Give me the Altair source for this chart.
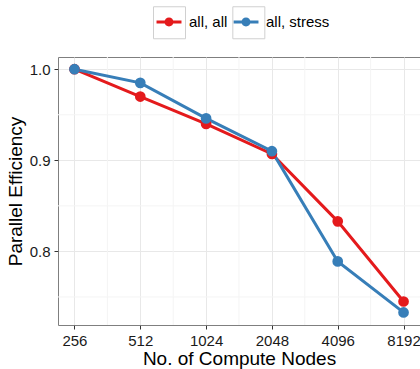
import altair as alt
import pandas as pd

# ---- data ----
nodes = [256, 512, 1024, 2048, 4096, 8192]
all_all = [1.0, 0.970, 0.940, 0.907, 0.833, 0.745]
all_stress = [1.0, 0.985, 0.946, 0.910, 0.789, 0.733]
series_names = ["all, all", "all, stress"]
colors = ["#E41A1C", "#377EB8"]
x_ticks = [256, 512, 1024, 2048, 4096, 8192]
y_ticks = [0.8, 0.9, 1.0]
x_minor = [362.04, 724.08, 1448.15, 2896.31, 5792.62]
y_minor = [0.75, 0.85, 0.95]

rows = []
for name, col, vals in zip(series_names, colors, [all_all, all_stress]):
    for n, v in zip(nodes, vals):
        rows.append({"nodes": n, "eff": v, "series": name,
                     "series_box": name, "line_color": col})
df = pd.DataFrame(rows)

FONT = "Liberation Sans"
LABEL_SIZE = 15
COL_PAD = 2
# width of the first legend label in Liberation Sans (Arial metrics)
FIRST_LABEL_W = 2.556 * LABEL_SIZE

xscale = alt.Scale(type="log", base=2, domain=[215.27, 9741.9], nice=False)
yscale = alt.Scale(domain=[0.7192, 1.0134], nice=False, zero=False)

# legend symbols (unit path scaled by sqrt(size)/2 = 16 px)
key_path = ("M-0.78,-0.094L0.78,-0.094L0.78,0.094L-0.78,0.094Z "
            "M0.28,0A0.28,0.28,0,1,1,-0.28,0A0.28,0.28,0,1,1,0.28,0Z")
box_path = "M-1,-1L1,-1L1,1L-1,1Z"

legend_common = dict(
    orient="none", legendX=95, legendY=-51, direction="horizontal",
    symbolSize=1024, labelFont=FONT, labelFontSize=LABEL_SIZE,
    labelOffset=4, padding=0, labelLimit=200,
)

base = alt.Chart(df)

minor_x = alt.Chart(pd.DataFrame({"v": x_minor})).mark_rule(
    color="#F4F4F4", strokeWidth=1
).encode(x=alt.X("v:Q", scale=xscale))
minor_y = alt.Chart(pd.DataFrame({"v": y_minor})).mark_rule(
    color="#F4F4F4", strokeWidth=1
).encode(y=alt.Y("v:Q", scale=yscale))

x_enc = alt.X(
    "nodes:Q", scale=xscale, title="No. of Compute Nodes",
    axis=alt.Axis(values=x_ticks, format="d", grid=True, gridColor="#E8E8E8",
                  domain=False, tickColor="#333333", tickSize=4,
                  labelFont=FONT, labelFontSize=15, labelColor="#1A1A1A",
                  labelPadding=4, labelFlush=False,
                  titleFont=FONT, titleFontSize=19, titleFontWeight="normal",
                  titleColor="#000000", titlePadding=1),
)
y_enc = alt.Y(
    "eff:Q", scale=yscale, title="Parallel Efficiency",
    axis=alt.Axis(values=y_ticks, format=".1f", grid=True, gridColor="#E8E8E8",
                  domain=False, tickColor="#333333", tickSize=4,
                  labelFont=FONT, labelFontSize=15, labelColor="#1A1A1A",
                  labelPadding=4,
                  titleFont=FONT, titleFontSize=19, titleFontWeight="normal",
                  titleColor="#000000", titlePadding=4),
)

lines = base.mark_line(strokeWidth=3).encode(
    x=x_enc, y=y_enc,
    detail="series:N",
    stroke=alt.Stroke("line_color:N", scale=None),
)
points = base.mark_point(filled=True, size=115, opacity=1).encode(
    x=alt.X("nodes:Q", scale=xscale),
    y=alt.Y("eff:Q", scale=yscale),
    color=alt.Color("series:N", scale=alt.Scale(domain=series_names, range=colors),
                    legend=alt.Legend(title=None, symbolType=key_path,
                                      symbolStrokeWidth=0, columnPadding=COL_PAD,
                                      labelColor="#000000", **legend_common)),
)
# legend key frames: a second, label-less legend laid over the first
boxes = base.transform_filter("datum.nodes < 0").mark_point(strokeWidth=1).encode(
    x=alt.X("nodes:Q", scale=xscale),
    y=alt.Y("eff:Q", scale=yscale),
    shape=alt.Shape("series_box:N",
                    scale=alt.Scale(domain=alt.DomainUnionWith(unionWith=series_names),
                                    range=[box_path, box_path]),
                    legend=alt.Legend(title=None, symbolStrokeColor="#D0D0D0",
                                      symbolFillColor="transparent",
                                      symbolStrokeWidth=1, symbolOpacity=1,
                                      labelExpr="''",
                                      columnPadding=COL_PAD + FIRST_LABEL_W,
                                      **legend_common)),
)

chart = alt.layer(minor_x, minor_y, lines, points, boxes).properties(
    width=362, height=268,
    autosize=alt.AutoSizeParams(type="none"),
    padding={"left": 58, "top": 57, "right": 0, "bottom": 44},
    background="white",
).configure_view(stroke="#7F7F7F", strokeWidth=1)

chart.save("out.html", embed_options={"renderer": "svg", "actions": False})
